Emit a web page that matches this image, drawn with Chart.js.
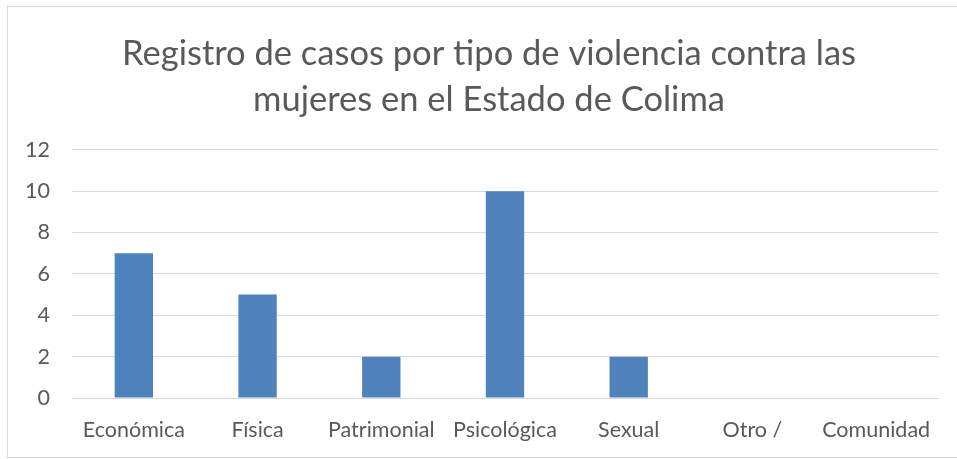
<!DOCTYPE html>
<html lang="es">
<head>
<meta charset="UTF-8">
<title>Registro de casos</title>
<script src="https://cdn.jsdelivr.net/npm/chart.js"></script>
<style>
    html, body { margin: 0; padding: 0; background: #fff; }
    .marco {
        position: absolute; left: 7px; top: 6px; width: 960px; height: 450px;
        border-top: 1px solid #d9d9d9; border-left: 1px solid #d9d9d9; border-bottom: 1px solid #d9d9d9;
    }
    .chart-area { position: absolute; left: 0; top: 0; width: 957px; height: 459px; }
</style>
</head>
<body>
<div class="marco"></div>
<div class="chart-area">
    <canvas id="grafico"></canvas>
</div>
<script>
    // datos
    const categorias = ['Económica', 'Física', 'Patrimonial', 'Psicológica', 'Sexual', 'Otro /', 'Comunidad'];
    const casos = [7, 5, 2, 10, 2, 0, 0];
    const tituloLineas = ['Registro de casos por tipo de violencia contra las', 'mujeres en el Estado de Colima'];

    const gris = '#595959';
    const fuente = 'Lato, "Open Sans", sans-serif';

    // el titulo original esta un poco corrido a la derecha
    const moverTitulo = {
        id: 'moverTitulo',
        afterLayout: function (chart) {
            if (chart.titleBlock) {
                chart.titleBlock.left = 40;
            }
        }
    };

    const ctx = document.getElementById('grafico').getContext('2d');
    const graficoChart = new Chart(ctx, {
        type: 'bar',
        data: {
            labels: categorias,
            datasets: [{
                data: casos,
                backgroundColor: '#4F81BD',
                categoryPercentage: 1,
                barPercentage: 0.31
            }]
        },
        options: {
            responsive: true,
            maintainAspectRatio: false,
            animation: false,
            layout: { padding: { top: 31, right: 19, bottom: 0, left: 0 } },
            plugins: {
                legend: { display: false },
                tooltip: { enabled: false },
                title: {
                    display: true,
                    text: tituloLineas,
                    color: gris,
                    font: { family: fuente, size: 34.5, weight: 'normal', lineHeight: 1.33 },
                    padding: { top: 0, bottom: 27 }
                }
            },
            scales: {
                x: {
                    grid: { display: false, drawTicks: false },
                    border: { color: '#d9d9d9', width: 1 },
                    ticks: { color: gris, font: { family: fuente, size: 21.5 }, padding: 19, maxRotation: 0, autoSkip: false },
                    afterFit: function (scale) { scale.height = 61; }
                },
                y: {
                    min: 0, max: 12,
                    grid: { color: '#d9d9d9', lineWidth: 1, drawTicks: false },
                    border: { display: false },
                    ticks: { stepSize: 2, color: gris, font: { family: fuente, size: 21.5 }, padding: 22 },
                    afterFit: function (scale) { scale.width = 72; }
                }
            }
        },
        plugins: [moverTitulo]
    });
</script>
</body>
</html>
